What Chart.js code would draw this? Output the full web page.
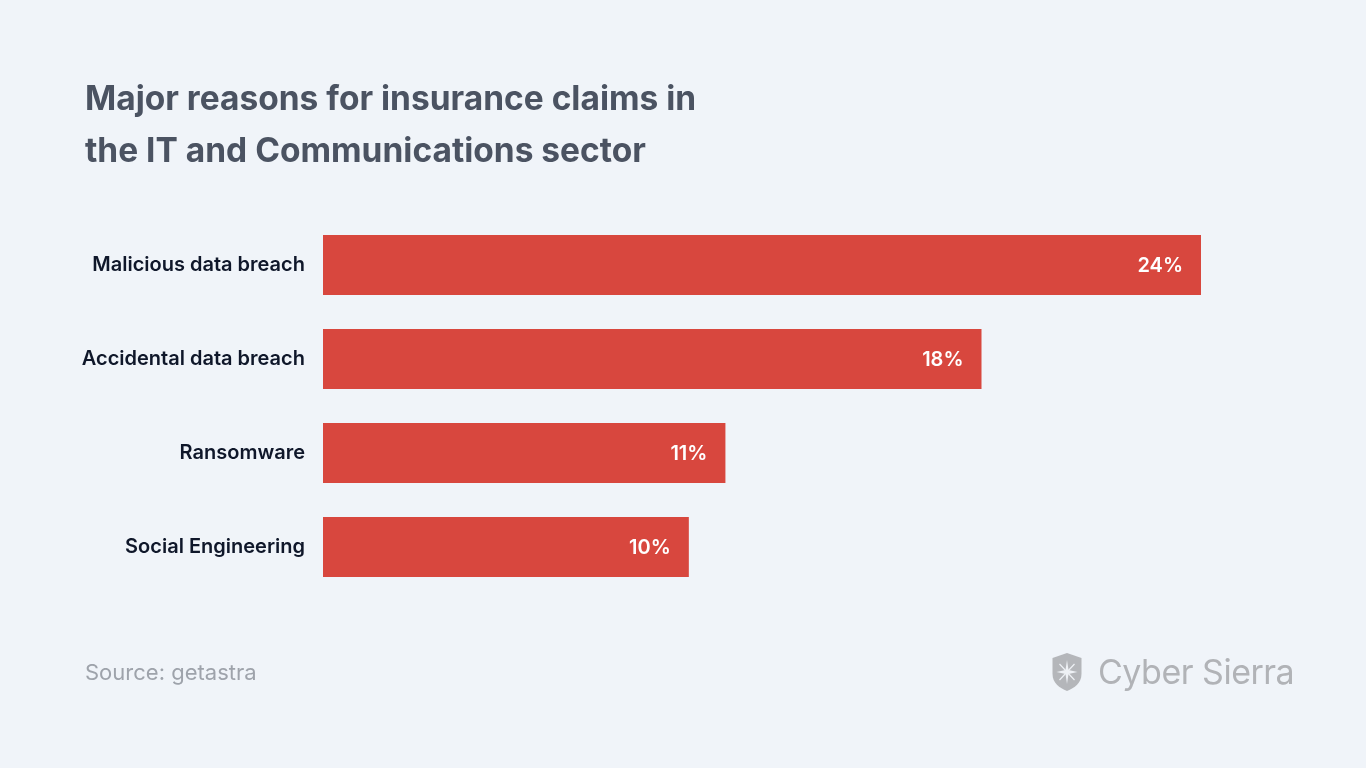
<!DOCTYPE html>
<html>
<head>
<meta charset="utf-8">
<script src="https://cdn.jsdelivr.net/npm/chart.js@4"></script>
<style>
  html, body { margin:0; padding:0; background:#f0f4f9; width:1366px; height:768px; overflow:hidden; }
  #wrap { position:absolute; left:0; top:0; width:1366px; height:768px; }
  .title { position:absolute; left:85px; top:72px; font-family:Inter, sans-serif; font-weight:700; font-size:33.5px; line-height:52px; color:#4b5362; }
  .source { position:absolute; left:85px; top:659px; font-family:Inter, sans-serif; font-weight:400; font-size:22px; color:#9ea3ab; }
  .logo { position:absolute; left:1050px; top:651px; display:flex; align-items:center; }
  .logo span { font-family:Inter, sans-serif; font-weight:400; font-size:34px; color:#b1b3b7; margin-left:14px; letter-spacing:-0.5px; }
</style>
</head>
<body>
<div id="wrap"><canvas id="c" width="1366" height="768"></canvas></div>
<div class="title">Major reasons for insurance claims in<br>the IT and Communications sector</div>
<div class="source">Source: getastra</div>
<div class="logo">
  <svg width="34" height="40" viewBox="0 0 33 40">
    <path d="M16.5 1 L31 6 L31 22 C31 31 24 36 16.5 39 C9 36 2 31 2 22 L2 6 Z" fill="#b4b6ba"/>
    <path d="M16.5 8 L18 18 L27 20 L18 22 L16.5 32 L15 22 L6 20 L15 18 Z" fill="#eef1f5"/>
    <path d="M16.5 20 L24 12 M16.5 20 L9 12 M16.5 20 L24 28 M16.5 20 L9 28" stroke="#eef1f5" stroke-width="1.2"/>
  </svg>
  <span>Cyber Sierra</span>
</div>
<script>
const categories = ["Malicious data breach", "Accidental data breach", "Ransomware", "Social Engineering"];
const values = [24, 18, 11, 10];
const valueLabels = ["24%", "18%", "11%", "10%"];

const valueLabelPlugin = {
  id: 'valueLabels',
  afterDatasetsDraw(chart) {
    const ctx = chart.ctx;
    const meta = chart.getDatasetMeta(0);
    ctx.save();
    ctx.font = '600 20px Inter, sans-serif';
    ctx.fillStyle = '#ffffff';
    ctx.textAlign = 'right';
    ctx.textBaseline = 'middle';
    meta.data.forEach((bar, i) => {
      ctx.fillText(valueLabels[i], bar.x - 18, bar.y + 1);
    });
    ctx.restore();
  }
};

new Chart(document.getElementById('c'), {
  type: 'bar',
  data: {
    labels: categories,
    datasets: [{
      data: values,
      backgroundColor: '#d8473e',
      borderWidth: 0,
      barPercentage: 1,
      categoryPercentage: 0.64
    }]
  },
  options: {
    indexAxis: 'y',
    responsive: false,
    animation: false,
    layout: { padding: { top: 218, bottom: 174, right: 165, left: 0 } },
    plugins: { legend: { display: false }, tooltip: { enabled: false } },
    scales: {
      x: { display: false, min: 0, max: 24 },
      y: {
        grid: { display: false, drawBorder: false },
        border: { display: false },
        afterFit(scale) { scale.width = 323; },
        ticks: {
          color: '#0f172a',
          padding: 10,
          font: { family: 'Inter, sans-serif', size: 20, weight: '600' }
        }
      }
    }
  },
  plugins: [valueLabelPlugin]
});
</script>
</body>
</html>
